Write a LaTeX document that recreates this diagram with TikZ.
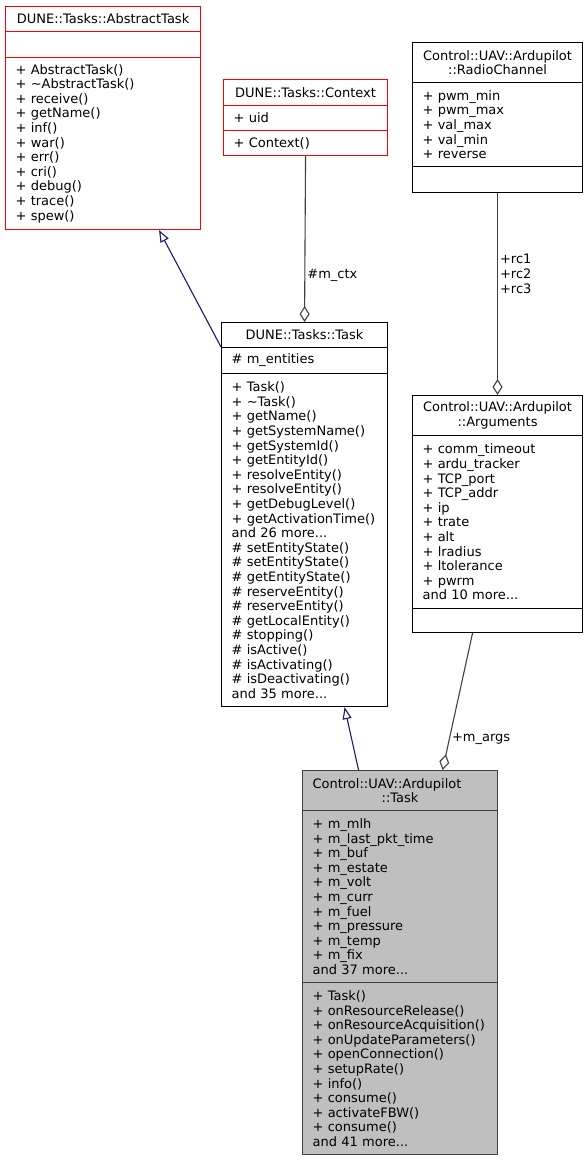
\documentclass[tikz,border=0pt]{standalone}
\usepackage{fontspec}
\setmainfont{DejaVu Sans}
\usetikzlibrary{arrows.meta,calc}
\hyphenpenalty=10000
\exhyphenpenalty=10000

\definecolor{edgegrey}{HTML}{404040}
\definecolor{inhblue}{HTML}{191970}
\definecolor{focusfill}{HTML}{BFBFBF}
\definecolor{boxred}{HTML}{FF0000}

\tikzset{
  partbox/.style={draw, line width=1.1pt, fill=white, anchor=north west, inner xsep=10pt, inner ysep=0pt, font=\fontsize{13}{14.6}\selectfont},
  redbox/.style={draw=boxred},
  inherit/.style={draw=inhblue, line width=1.1pt, -{Triangle[open,length=12pt,width=9pt]}},
  aggr/.style={draw=edgegrey, line width=1.1pt, -{Diamond[open,length=16pt,width=10pt]}},
  edgelabel/.style={font=\fontsize{13}{14.6}\selectfont, inner sep=2pt},
}

% name, x, y, width, height, text
\newcommand{\umlpart}[7][]{%
  \pgfmathsetmacro{\partwidth}{#5-20}%
  \node[partbox, text width=\partwidth pt, minimum height=#6pt, #1] (#2) at (#3,#4) {#7};
}

\begin{document}
\begin{tikzpicture}[x=1pt,y=-1pt]
			\useasboundingbox (0,0) rectangle (588,1160);
			
			%%%%% CLASSES %%%%%
			
			\umlpart[redbox, align=center]{abstitle}{5}{6}{195}{25}{DUNE::Tasks::AbstractTask}
			\umlpart[redbox]{absattr}{5}{31}{195}{26}{}
			\umlpart[redbox, align=left]{absops}{5}{57}{195}{172}{+ AbstractTask()\\+ \textasciitilde AbstractTask()\\+ receive()\\+ getName()\\+ inf()\\+ war()\\+ err()\\+ cri()\\+ debug()\\+ trace()\\+ spew()}
			
			\umlpart[redbox, align=center]{ctxtitle}{223}{79}{164}{26}{DUNE::Tasks::Context}
			\umlpart[redbox, align=left]{ctxattr}{223}{105}{164}{25}{+ uid}
			\umlpart[redbox, align=left]{ctxops}{223}{130}{164}{25}{+ Context()}
			
			\umlpart[align=center]{rctitle}{412}{42}{170}{40}{Control::UAV::Ardupilot\\::RadioChannel}
			\umlpart[align=left]{rcattr}{412}{82}{170}{84}{+ pwm\_min\\+ pwm\_max\\+ val\_max\\+ val\_min\\+ reverse}
			\umlpart{rcops}{412}{166}{170}{26}{}
			
			\umlpart[align=center]{dtasktitle}{221}{322}{166}{25}{DUNE::Tasks::Task}
			\umlpart[align=left]{dtaskattr}{221}{347}{166}{26}{\# m\_entities}
			\umlpart[align=left]{dtaskops}{221}{373}{166}{333}{+ Task()\\+ \textasciitilde Task()\\+ getName()\\+ getSystemName()\\+ getSystemId()\\+ getEntityId()\\+ resolveEntity()\\+ resolveEntity()\\+ getDebugLevel()\\+ getActivationTime()\\and 26 more...\\\# setEntityState()\\\# setEntityState()\\\# getEntityState()\\\# reserveEntity()\\\# reserveEntity()\\\# getLocalEntity()\\\# stopping()\\\# isActive()\\\# isActivating()\\\# isDeactivating()\\and 35 more...}
			
			\umlpart[align=center]{argstitle}{412}{395}{170}{40}{Control::UAV::Ardupilot\\::Arguments}
			\umlpart[align=left]{argsattr}{412}{435}{170}{173}{+ comm\_timeout\\+ ardu\_tracker\\+ TCP\_port\\+ TCP\_addr\\+ ip\\+ trate\\+ alt\\+ lradius\\+ ltolerance\\+ pwrm\\and 10 more...}
			\umlpart{argsops}{412}{608}{170}{24}{}
			
			\umlpart[draw=edgegrey, fill=focusfill, align=center]{atasktitle}{302}{770}{195}{40}{\makebox[\hsize][l]{Control::UAV::Ardupilot}\\::Task}
			\umlpart[draw=edgegrey, fill=focusfill, align=left]{ataskattr}{302}{810}{195}{172}{+ m\_mlh\\+ m\_last\_pkt\_time\\+ m\_buf\\+ m\_estate\\+ m\_volt\\+ m\_curr\\+ m\_fuel\\+ m\_pressure\\+ m\_temp\\+ m\_fix\\and 37 more...}
			\umlpart[draw=edgegrey, fill=focusfill, align=left]{ataskops}{302}{982}{195}{172}{+ Task()\\+ onResourceRelease()\\+ onResourceAcquisition()\\+ onUpdateParameters()\\+ openConnection()\\+ setupRate()\\+ info()\\+ consume()\\+ activateFBW()\\+ consume()\\and 41 more...}
			
			%%%%% RELATIONS %%%%%
			
			\draw[inherit] (dtaskattr.north west) -- ([xshift=154pt]absops.south west);
			\draw[aggr] (ctxops.south) -- node[edgelabel, pos=0.72, right] {\#m\_ctx} (dtasktitle.north);
			\draw[aggr] (rcops.south) -- node[edgelabel, pos=0.4, right, align=center] {+rc1\\+rc2\\+rc3} (argstitle.north);
			
			\draw[inherit] ([xshift=-41.5pt]atasktitle.north) -- ([xshift=40pt]dtaskops.south);
			\draw[aggr] ([xshift=-25pt]argsops.south) -- node[edgelabel, pos=0.77, right] {+m\_args} ([xshift=42.5pt]atasktitle.north);
			
		\end{tikzpicture}
\end{document}
